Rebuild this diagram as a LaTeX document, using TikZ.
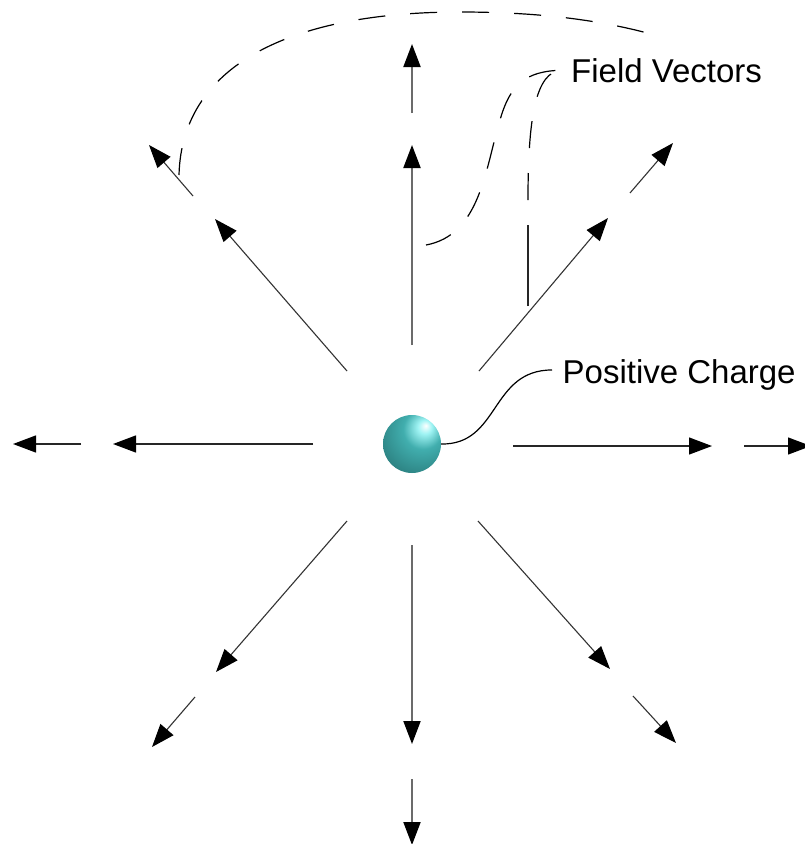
\documentclass[tikz,border=0pt]{standalone}
\usepackage{fontspec}
\setmainfont{Liberation Sans}
\usetikzlibrary{arrows.meta}
\definecolor{sphA}{HTML}{A0F4F4}
\definecolor{sphB}{HTML}{41AEAE}
\definecolor{sphC}{HTML}{2B7F7F}
\definecolor{sphD}{HTML}{194A4A}
\pgfdeclareradialshading{sphshade}{\pgfpoint{12bp}{16bp}}{%
  color(0bp)=(white); color(6bp)=(sphA); color(17bp)=(sphB);
  color(38bp)=(sphC); color(64bp)=(sphD); color(80bp)=(sphD)}
\tikzset{
  fieldh/.style={->, line width=1.3pt, draw=black!85},
  fieldv/.style={->, line width=2pt, draw=black!58},
  fieldd/.style={->, line width=1.1pt, draw=black!80},
  guide/.style={line width=1.2pt, draw=black, dash pattern=on 27pt off 25pt},
  leader/.style={line width=1.2pt, draw=black},
  lbl/.style={font=\fontsize{33}{40}\selectfont, inner ysep=0pt, anchor=base west}
}
\begin{document}
\begin{tikzpicture}[x=1pt, y=-1pt, >={Triangle[length=23pt,width=17pt,color=black]}]
\useasboundingbox (0,0) rectangle (804,844);
\fill[white] (0,0) rectangle (804,844);

% charge
\node[circle, minimum size=58pt, inner sep=0pt, shade, shading=sphshade] (charge) at (412,444) {};

% labels
\node[lbl, inner xsep=9pt] (fv) at (562,82) {Field Vectors};
\node[lbl, inner xsep=10.5pt] (pc) at (552,383) {Positive Charge};

% arrow end points
\coordinate (r1s) at (513,446); \coordinate (r1e) at (712,446);
\coordinate (r2s) at (744,446); \coordinate (r2e) at (811,446);
\coordinate (l1s) at (313,444); \coordinate (l1e) at (113,444);
\coordinate (l2s) at (81,444);  \coordinate (l2e) at (13,444);
\coordinate (u1s) at (412,345); \coordinate (u1e) at (412,145);
\coordinate (u2s) at (412,113); \coordinate (u2e) at (412,44);
\coordinate (d1s) at (412,545); \coordinate (d1e) at (412,744);
\coordinate (d2s) at (412,779); \coordinate (d2e) at (412,845);
\coordinate (ul1s) at (347,371); \coordinate (ul1e) at (215,219);
\coordinate (ul2s) at (193,196); \coordinate (ul2e) at (149,145);
\coordinate (ur1s) at (479,371); \coordinate (ur1e) at (608,218);
\coordinate (ur2s) at (630,193); \coordinate (ur2e) at (673,143);
\coordinate (ll1s) at (347,521); \coordinate (ll1e) at (216,672);
\coordinate (ll2s) at (195,697); \coordinate (ll2e) at (152,747);
\coordinate (lr1s) at (478,521); \coordinate (lr1e) at (610,669);
\coordinate (lr2s) at (633,696); \coordinate (lr2e) at (676,743);

% field arrows
\draw[fieldh] (r1s) -- (r1e);
\draw[fieldh] (r2s) -- (r2e);
\draw[fieldh] (l1s) -- (l1e);
\draw[fieldh] (l2s) -- (l2e);
\draw[fieldv] (u1s) -- (u1e);
\draw[fieldv] (u2s) -- (u2e);
\draw[fieldv] (d1s) -- (d1e);
\draw[fieldv] (d2s) -- (d2e);
\draw[fieldd] (ul1s) -- (ul1e);
\draw[fieldd] (ul2s) -- (ul2e);
\draw[fieldd] (ur1s) -- (ur1e);
\draw[fieldd] (ur2s) -- (ur2e);
\draw[fieldd] (ll1s) -- (ll1e);
\draw[fieldd] (ll2s) -- (ll2e);
\draw[fieldd] (lr1s) -- (lr1e);
\draw[fieldd] (lr2s) -- (lr2e);

% dashed guide curves
\coordinate (arcA) at (179,175);
\coordinate (arcB) at (662,37);
\draw[guide] (arcA) .. controls (182,60) and (300,12) .. (460,12)
  .. controls (560,12) and (620,25) .. (arcB);

\coordinate (gA) at (426,245);
\draw[guide] (gA) .. controls (480,235) and (485,170) .. (500,120)
  .. controls (510,85) and (525,71) .. (fv.west);

\coordinate (gB) at (528,306);
\coordinate (gBm) at (528,225);
\draw[leader, line width=1.1pt, draw=black!85] (gB) -- (gBm);
\draw[guide, dash phase=27pt] (gBm) -- (528,200)
  .. controls (528,120) and (535,71) .. (fv.west);

% leader to charge
\draw[leader] (charge.east) .. controls (500,445) and (490,370) .. ([yshift=4.5pt]pc.west);
\end{tikzpicture}
\end{document}
